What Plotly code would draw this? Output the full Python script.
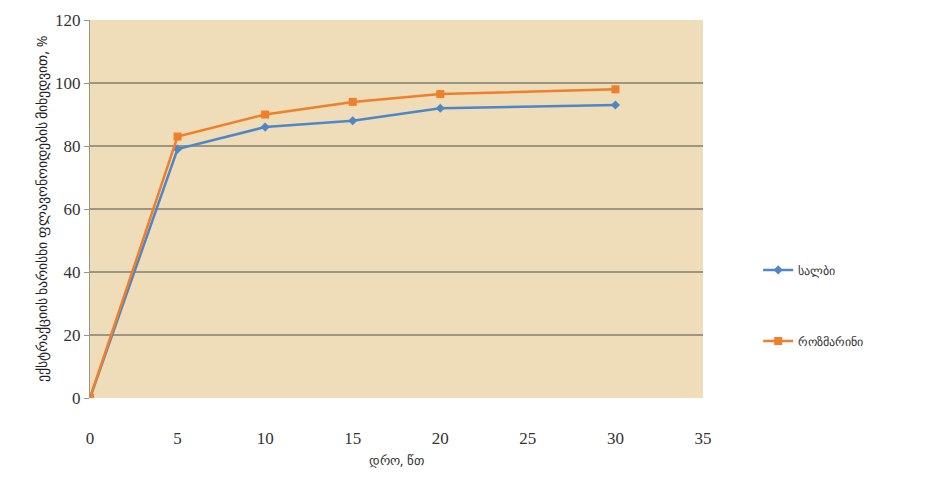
import plotly.graph_objects as go

time_min = [0, 5, 10, 15, 20, 30]
series1_name = "სალბი"
series1 = [0, 79, 86, 88, 92, 93]
series2_name = "როზმარინი"
series2 = [0, 83, 90, 94, 96.5, 98]

x_title = "დრო, წთ"
y_title = "ექსტრაქციის ხარისხი ფლავონოიდების მიხედვით, %"

fig = go.Figure()
fig.add_trace(go.Scatter(
    x=time_min, y=series1, name=series1_name, mode="lines+markers",
    legendgroup="a",
    line=dict(color="#4f86c6", width=2.5),
    marker=dict(symbol="diamond", size=7, color="#4f86c6"),
))
fig.add_trace(go.Scatter(
    x=time_min, y=series2, name=series2_name, mode="lines+markers",
    legendgroup="b",
    line=dict(color="#ef7f2a", width=2.5),
    marker=dict(symbol="square", size=8, color="#ef7f2a"),
))

fig.update_layout(
    width=925, height=493,
    margin=dict(l=90, r=222, t=20, b=95),
    paper_bgcolor="white",
    plot_bgcolor="#efdcb8",
    font=dict(family="Liberation Serif", size=17, color="#333333"),
    legend=dict(
        x=1.09, y=0.245, xanchor="left", yanchor="middle",
        traceorder="grouped",
        tracegroupgap=52, bgcolor="rgba(0,0,0,0)",
        font=dict(family="Noto Sans", size=12, color="#333333"),
    ),
    showlegend=True,
)
fig.update_xaxes(
    range=[0, 35], dtick=5, tick0=0,
    showgrid=False, zeroline=False,
    showline=False,
    ticks="", ticklabelstandoff=28,
    title=dict(text=x_title, font=dict(family="Noto Sans", size=13), standoff=8),
)
fig.update_yaxes(
    range=[0, 120], dtick=20,
    showgrid=True, gridcolor="#9c9580", gridwidth=1.5,
    zeroline=False,
    showline=True, linecolor="#9c9580", linewidth=1,
    ticks="outside", ticklen=5, tickcolor="#9c9580",
    title=dict(text=y_title, font=dict(family="Noto Sans", size=14, color="#222222"), standoff=4),
)

fig.write_html("out.html")
